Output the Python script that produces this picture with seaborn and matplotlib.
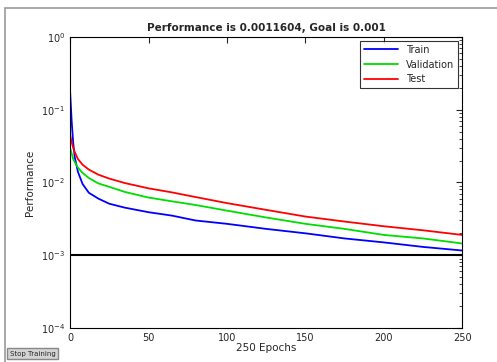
import numpy as np
import pandas as pd
import seaborn as sns
import matplotlib.pyplot as plt
from matplotlib.patches import Rectangle

epochs = [0, 1, 2, 3, 5, 8, 12, 18, 25, 35, 50, 65, 80, 100, 125, 150, 175, 200, 225, 250]
train = [0.18, 0.07, 0.035, 0.022, 0.014, 0.0095, 0.0072, 0.006, 0.0051, 0.0045, 0.0039, 0.0035,
         0.003, 0.0027, 0.0023, 0.002, 0.0017, 0.0015, 0.0013, 0.00116]
validation = [0.03, 0.025, 0.021, 0.019, 0.016, 0.0135, 0.0115, 0.0097, 0.0087, 0.0074, 0.0062, 0.0055,
              0.0049, 0.0041, 0.0033, 0.0027, 0.0023, 0.0019, 0.0017, 0.00145]
test = [0.045, 0.036, 0.03, 0.026, 0.021, 0.0175, 0.015, 0.0128, 0.0113, 0.0098, 0.0083, 0.0073,
        0.0063, 0.0052, 0.0042, 0.0034, 0.0029, 0.0025, 0.0022, 0.0019]
goal = 0.001
series_names = ['Train', 'Validation', 'Test']

df = pd.concat([
    pd.DataFrame({'epoch': epochs, 'perf': vals, 'set': name})
    for name, vals in zip(series_names, [train, validation, test])
])

sns.set_style("white")
fig = plt.figure(figsize=(4.97, 3.62), dpi=100)
ax = fig.add_axes([0.141, 0.094, 0.789, 0.804])

sns.lineplot(data=df, x='epoch', y='perf', hue='set', palette=['#0000ff', '#00dd00', '#ff0000'],
             linewidth=1.3, ax=ax)
ax.axhline(goal, color='black', linewidth=1.5)

ax.set_yscale('log')
ax.set_xlim(0, 250)
ax.set_ylim(1e-4, 1)
ax.set_xticks([0, 50, 100, 150, 200, 250])
ax.tick_params(which='both', direction='in', top=True, right=True, labelsize=7)
ax.tick_params(which='major', length=4)
ax.tick_params(which='minor', length=2)
for s in ax.spines.values():
    s.set_color('black')
    s.set_linewidth(0.8)

ax.set_title('Performance is 0.0011604, Goal is 0.001', fontsize=7.5, fontweight='bold', pad=4)
ax.set_xlabel('250 Epochs', fontsize=7.5, labelpad=0)
ax.set_ylabel('Performance', fontsize=7.5)

leg = ax.legend(loc='upper right', fontsize=7, frameon=True, fancybox=False, edgecolor='black',
                handlelength=3.5, borderaxespad=0.4)
leg.get_frame().set_linewidth(0.8)

# outer window frame and stop button
fig.patches.append(Rectangle((5 / 497, -0.1), 1.1, 1 - 8 / 362 + 0.1, transform=fig.transFigure,
                             fill=False, edgecolor='#999999', linewidth=1.2))
fig.text(0.02, 0.015, 'Stop Training', fontsize=5, va='bottom', ha='left',
         bbox=dict(boxstyle='square,pad=0.4', facecolor='#d4d4d4', edgecolor='#888888'))

fig.savefig('out.png', dpi=100)
